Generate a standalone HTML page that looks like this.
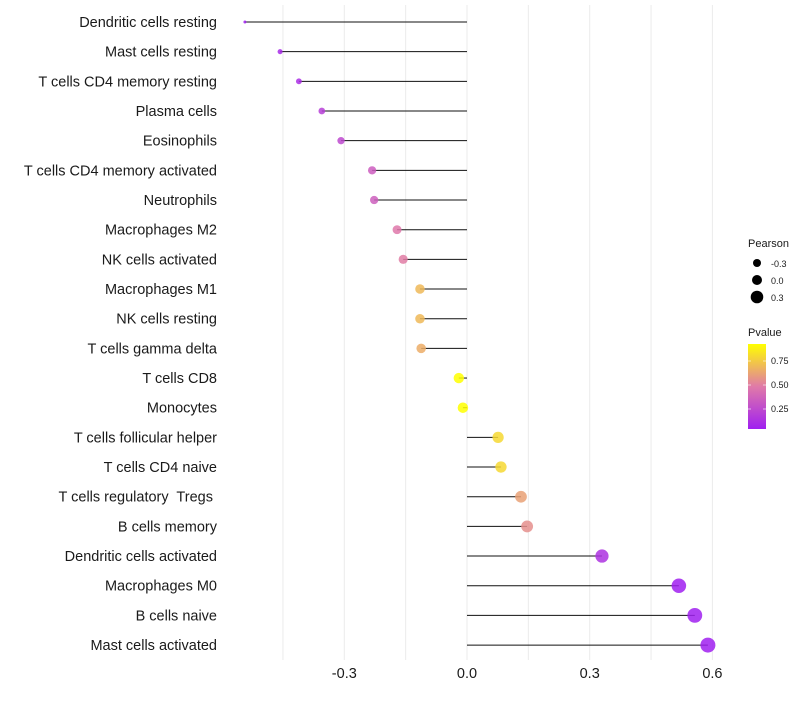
<!DOCTYPE html>
<html><head><meta charset="utf-8"><style>
body{margin:0;background:#fff;font-family:"Liberation Sans",sans-serif;}
text{white-space:pre;}
</style></head><body>
<svg id="chart" width="800" height="700" xmlns="http://www.w3.org/2000/svg">
<defs><linearGradient id="pg" x1="0" y1="1" x2="0" y2="0">
<stop offset="0" stop-color="#a020f0"/><stop offset="0.5" stop-color="#e07aa8"/><stop offset="1" stop-color="#ffff00"/></linearGradient></defs>
<g id="grid"></g><g id="marks"></g><g id="labels"></g><g id="legend"></g>
</svg>
<script>
const categories=["Dendritic cells resting","Mast cells resting","T cells CD4 memory resting","Plasma cells","Eosinophils","T cells CD4 memory activated","Neutrophils","Macrophages M2","NK cells activated","Macrophages M1","NK cells resting","T cells gamma delta","T cells CD8","Monocytes","T cells follicular helper","T cells CD4 naive","T cells regulatory  Tregs ","B cells memory","Dendritic cells activated","Macrophages M0","B cells naive","Mast cells activated"];
const pearson=[-0.543,-0.457,-0.411,-0.355,-0.308,-0.232,-0.227,-0.171,-0.156,-0.115,-0.115,-0.112,-0.020,-0.010,0.076,0.083,0.132,0.147,0.330,0.518,0.557,0.589];
const pvalue=[0.05,0.10,0.12,0.20,0.25,0.35,0.36,0.48,0.50,0.70,0.70,0.66,0.93,0.95,0.80,0.80,0.62,0.56,0.14,0.04,0.03,0.02];
const xTicks=[-0.3,0.0,0.3,0.6];
const xTickLabels=["-0.3","0.0","0.3","0.6"];
const NS="http://www.w3.org/2000/svg";
const x=v=>467+v*409;
const y=i=>22+i*29.67;
const r=v=>{const t=(v+0.543)/1.132;return Math.sqrt(2.25+t*54);};
function lerp(a,b,t){return a+(b-a)*t;}
function col(p){
 const t=Math.max(0,Math.min(1,(p-0.05)/0.88));
 const st=[[0,[160,32,240]],[0.5,[224,122,168]],[1,[255,255,0]]];
 let a=st[0],b=st[1];if(t>0.5){a=st[1];b=st[2];}
 const u=(t-a[0])/(b[0]-a[0]);
 return `rgb(${a[1].map((c,k)=>Math.round(lerp(c,b[1][k],u))).join(',')})`;
}
function mk(tag,attrs,parent){const e=document.createElementNS(NS,tag);for(const k in attrs)e.setAttribute(k,attrs[k]);document.getElementById(parent).appendChild(e);return e;}
for(let v=-0.45;v<=0.61;v+=0.15){
 const g=mk('line',{x1:x(v),x2:x(v),y1:5,y2:660,stroke:'#ebebeb','stroke-width':1},'grid');
 
 
}
categories.forEach((c,i)=>{
 const l=mk('line',{x1:x(0),x2:x(pearson[i]),y1:y(i),y2:y(i),stroke:'#111','stroke-width':1},'marks');
 
 
 const d=mk('circle',{cx:x(pearson[i]),cy:y(i),r:r(pearson[i]),fill:col(pvalue[i]),'fill-opacity':0.85},'marks');
 
 
 const t=mk('text',{x:217,y:y(i)+5,'text-anchor':'end','font-size':14.5,fill:'#1a1a1a'},'labels');
 t.textContent=c;
 
 
});
xTicks.forEach((v,i)=>{
 const t=mk('text',{x:x(v),y:678,'text-anchor':'middle','font-size':14.5,fill:'#1a1a1a'},'labels');
 t.textContent=xTickLabels[i];
 
 
});
const lg=document.getElementById('legend');
lg.innerHTML=`<text x="748" y="247" font-size="11" fill="#1a1a1a">Pearson</text>
<circle cx="757" cy="263" r="4" fill="#000"/><text x="771" y="267" font-size="9" fill="#1a1a1a">-0.3</text>
<circle cx="757" cy="280" r="5" fill="#000"/><text x="771" y="284" font-size="9" fill="#1a1a1a">0.0</text>
<circle cx="757" cy="297" r="6.3" fill="#000"/><text x="771" y="301" font-size="9" fill="#1a1a1a">0.3</text>
<text x="748" y="336" font-size="11" fill="#1a1a1a">Pvalue</text>
<rect x="748" y="344" width="18" height="85" fill="url(#pg)"/>
<g stroke="#fff" stroke-opacity="0.6"><line x1="748" x2="751" y1="361" y2="361"/><line x1="763" x2="766" y1="361" y2="361"/><line x1="748" x2="751" y1="385" y2="385"/><line x1="763" x2="766" y1="385" y2="385"/><line x1="748" x2="751" y1="409" y2="409"/><line x1="763" x2="766" y1="409" y2="409"/></g>
<text x="771" y="364" font-size="9" fill="#1a1a1a">0.75</text><text x="771" y="388" font-size="9" fill="#1a1a1a">0.50</text><text x="771" y="412" font-size="9" fill="#1a1a1a">0.25</text>`;


</script>
</body></html>
